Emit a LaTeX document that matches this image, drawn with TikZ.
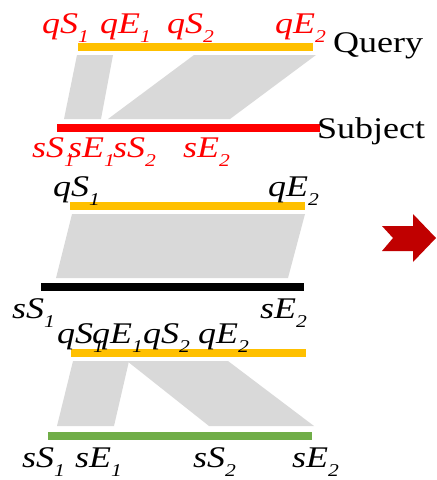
\documentclass[tikz,border=0pt]{standalone}
\usepackage{fontspec}
\setmainfont{Liberation Serif}[FakeStretch=1.2]
\definecolor{qorange}{HTML}{FFC000}
\definecolor{sgreen}{HTML}{70AD47}
\definecolor{linkgray}{HTML}{D9D9D9}
\definecolor{arrowred}{HTML}{C00000}
% coordinate name with an italic letter pair and a lowered index
\newcommand\seglab[3]{#1#2\raisebox{-9pt}{\fontsize{18}{18}\selectfont #3}}
\begin{document}
\begin{tikzpicture}[x=1pt,y=-1pt,
  lab/.style={inner sep=0pt, anchor=base west, font=\fontsize{30}{30}\selectfont\itshape},
  redlab/.style={lab, text=red},
  seqname/.style={inner sep=0pt, anchor=base west, font=\fontsize{30}{30}\selectfont},
  link/.style={fill=linkgray},
  bar/.style={fill=#1}]
\useasboundingbox (0,0) rectangle (437,480);

% ---------- top: two local alignments between query and subject ----------
\fill[link] (77,55) -- (113,55) -- (101,119) -- (64,119) -- cycle;
\fill[link] (194,55) -- (316,55) -- (230,119) -- (108,119) -- cycle;
\fill[bar=qorange] (78,43) rectangle (313,51);
\fill[bar=red] (57,124) rectangle (320,132);
\node[seqname] (query) at (333,52) {Query};
\node[seqname] (subject) at (317,138) {Subject};
\node[redlab] (tqs1) at (42,33) {\seglab{q}{S}{1}};
\node[redlab] (tqe1) at (100,33) {\seglab{q}{E}{1}};
\node[redlab] (tqs2) at (167,33) {\seglab{q}{S}{2}};
\node[redlab] (tqe2) at (275,33) {\seglab{q}{E}{2}};
\node[redlab] (tss1) at (32,157) {\seglab{s}{S}{1}};
\node[redlab] (tse1) at (68,157) {\seglab{s}{E}{1}};
\node[redlab] (tss2) at (113,157) {\seglab{s}{S}{2}};
\node[redlab] (tse2) at (183,157) {\seglab{s}{E}{2}};

% ---------- middle: one merged alignment ----------
\fill[link] (72,214) -- (305,214) -- (288,278) -- (56,278) -- cycle;
\fill[bar=qorange] (70,202) rectangle (305,210);
\fill[bar=black] (41,283) rectangle (304,291);
\node[lab] (mqs1) at (53,196) {\seglab{q}{S}{1}};
\node[lab] (mqe2) at (268,196) {\seglab{q}{E}{2}};
\node[lab] (mss1) at (12,318) {\seglab{s}{S}{1}};
\node[lab] (mse2) at (260,318) {\seglab{s}{E}{2}};

% ---------- bottom: crossing alignments ----------
\fill[link] (73,361) -- (129,361) -- (114,426) -- (57,426) -- cycle;
\fill[link] (127,361) -- (228,361) -- (314,426) -- (209,426) -- cycle;
\fill[bar=qorange] (71,349) rectangle (306,357);
\fill[bar=sgreen] (48,432) rectangle (312,440);
\node[lab] (bqs1) at (57,343) {\seglab{q}{S}{1}};
\node[lab] (bqe1) at (92,343) {\seglab{q}{E}{1}};
\node[lab] (bqs2) at (143,343) {\seglab{q}{S}{2}};
\node[lab] (bqe2) at (198,343) {\seglab{q}{E}{2}};
\node[lab] (bss1) at (22,467) {\seglab{s}{S}{1}};
\node[lab] (bse1) at (75,467) {\seglab{s}{E}{1}};
\node[lab] (bss2) at (193,467) {\seglab{s}{S}{2}};
\node[lab] (bse2) at (292,467) {\seglab{s}{E}{2}};

% ---------- block arrow ----------
\fill[arrowred] (382,226) -- (393,238) -- (382,251) -- (413,251) -- (413,262)
  -- (436,238) -- (413,214) -- (413,226) -- cycle;
\end{tikzpicture}
\end{document}
